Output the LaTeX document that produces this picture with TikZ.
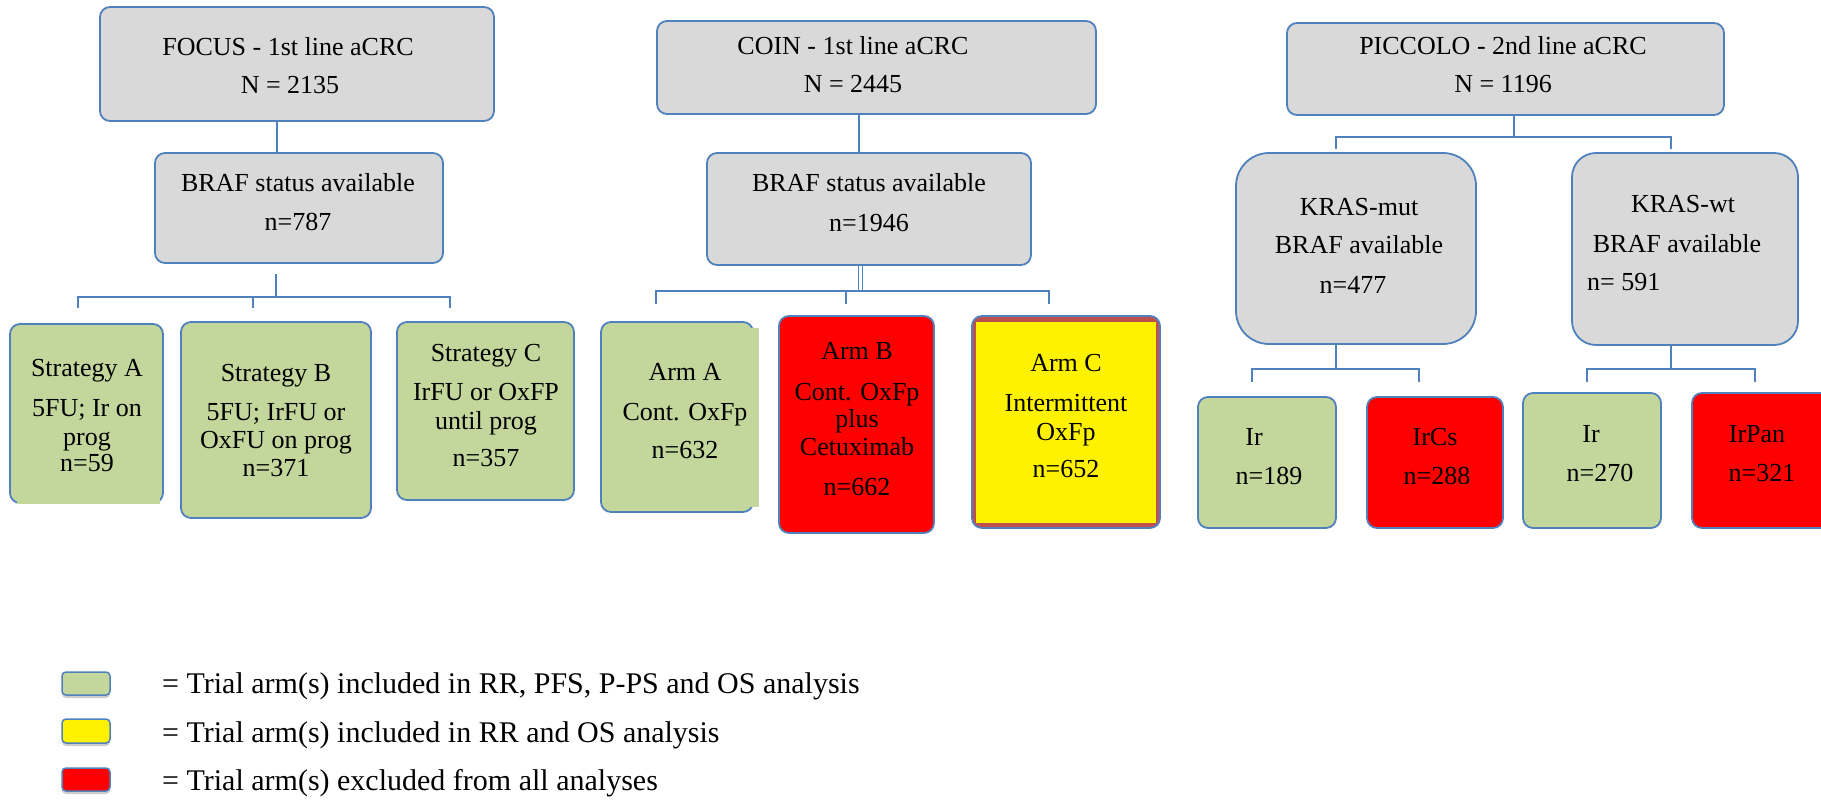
\documentclass[tikz,border=0pt]{standalone}
\usepackage{fontspec}
\setmainfont{Liberation Serif}
\usetikzlibrary{shadows}
\definecolor{lblue}{HTML}{4F81BD}
\definecolor{gfill}{HTML}{D9D9D9}
\definecolor{grn}{HTML}{C3D69B}
\definecolor{rbord}{HTML}{C0504D}
\tikzset{
 box/.style={draw=lblue, line width=1.8pt, rounded corners=10pt, inner sep=0pt},
 graybox/.style={box, fill=gfill},
 greenbox/.style={box, fill=grn},
 redbox/.style={box, fill=red},
 yelbox/.style={box, fill=rbord},
 conn/.style={draw=lblue, line width=1.8pt},
 txt/.style={inner sep=0pt, text height=17pt, text depth=0pt, font=\fontsize{26}{30}\selectfont},
 legtxt/.style={inner sep=0pt, text height=20pt, text depth=0pt, font=\fontsize{30}{34}\selectfont},
 legbox/.style={box, rounded corners=4pt, line width=1.5pt, drop shadow={shadow xshift=0pt, shadow yshift=-3pt, opacity=0.4}},
}
\newcommand\bx[6]{\node[#2, minimum width={#5-#3}, minimum height={#6-#4}] (#1) at ({(#3+#5)/2},{(#4+#6)/2}) {};}
\newcommand\tx[4]{\node[txt] (#1) at (#2,#3) {#4};}
\begin{document}
\begin{tikzpicture}[x=1pt,y=-1pt]
\clip (0,0) rectangle (1821,800);
\fill[white] (0,0) rectangle (1821,800);
% ---------- FOCUS ----------
\bx{focus}{graybox}{100}{7}{494}{121}
\tx{focusA}{288}{47}{FOCUS - 1st line aCRC}
\tx{focusB}{290}{85}{N = 2135}
\bx{brafA}{graybox}{155}{153}{443}{263}
\tx{brafAa}{298}{183}{BRAF status available}
\tx{brafAb}{298}{222}{n=787}
\bx{stA}{greenbox}{10}{324}{163}{503}
\fill[grn] (17,492) rectangle (160,504);
\tx{stA1}{87}{368}{Strategy A}
\tx{stA2}{87}{408}{5FU; Ir on}
\tx{stA3}{87}{437}{prog}
\tx{stA4}{87}{463}{n=59}
\bx{stB}{greenbox}{181}{322}{371}{518}
\tx{stB1}{276}{373}{Strategy B}
\tx{stB2}{276}{412}{5FU; IrFU or}
\tx{stB3}{276}{440}{OxFU on prog}
\tx{stB4}{276}{468}{n=371}
\bx{stC}{greenbox}{397}{322}{574}{500}
\tx{stC1}{486}{353}{Strategy C}
\tx{stC2}{486}{392}{IrFU or OxFP}
\tx{stC3}{486}{421}{until prog}
\tx{stC4}{486}{458}{n=357}
\draw[conn] ([xshift=-20pt]focus.south) -- ([xshift=-22pt]brafA.north);
\coordinate (fj) at (276,297);
\coordinate (fa) at (78,308);
\coordinate (fb) at (253,308);
\coordinate (fc) at (450,308);
\draw[conn] (brafA.south -| fj) ++(0,10) -- (fj);
\draw[conn] (fa) |- (fj) -| (fc);
\draw[conn] (fb) -- (fb |- fj);
% ---------- COIN ----------
\bx{coin}{graybox}{657}{21}{1096}{114}
\tx{coinA}{853}{46}{COIN - 1st line aCRC}
\tx{coinB}{853}{84}{N = 2445}
\bx{brafB}{graybox}{707}{153}{1031}{265}
\tx{brafBa}{869}{183}{BRAF status available}
\tx{brafBb}{869}{223}{n=1946}
\bx{armA}{greenbox}{601}{322}{753}{512}
\fill[grn] (745,328) rectangle (759,507);
\tx{armA1}{685}{372}{Arm A}
\tx{armA2}{685}{412}{Cont. OxFp}
\tx{armA3}{685}{450}{n=632}
\bx{armB}{redbox}{779}{316}{934}{533}
\tx{armB1}{857}{351}{Arm B}
\tx{armB2}{857}{392}{Cont. OxFp}
\tx{armB3}{857}{419}{plus}
\tx{armB4}{857}{447}{Cetuximab}
\tx{armB5}{857}{487}{n=662}
\bx{armC}{yelbox}{972}{316}{1160}{528}
\fill[yellow] (976,322) rectangle (1156,523);
\tx{armC1}{1066}{363}{Arm C}
\tx{armC2}{1066}{403}{Intermittent}
\tx{armC3}{1066}{432}{OxFp}
\tx{armC4}{1066}{469}{n=652}
\coordinate (cj) at (860.5,291);
\coordinate (ca) at (656,304);
\coordinate (cb) at (846,304);
\coordinate (cc) at (1049,304);
\draw[conn] (coin.south -| 859,0) -- (brafB.north -| 859,0);
\draw[conn, line width=1.2pt] ([xshift=-1.8pt]brafB.south -| cj) -- ([xshift=-1.8pt]cj);
\draw[conn, line width=1.2pt] ([xshift=1.8pt]brafB.south -| cj) -- ([xshift=1.8pt]cj);
\draw[conn] (ca) |- (cj) -| (cc);
\draw[conn] (cb) -- (cb |- cj);
% ---------- PICCOLO ----------
\bx{picc}{graybox}{1287}{23}{1724}{115}
\tx{piccA}{1503}{46}{PICCOLO - 2nd line aCRC}
\tx{piccB}{1503}{84}{N = 1196}
\bx{kmut}{graybox, rounded corners=33pt}{1236}{153}{1476}{344}
\tx{kmut1}{1359}{207}{KRAS-mut}
\tx{kmut2}{1359}{245}{BRAF available}
\tx{kmut3}{1353}{285}{n=477}
\bx{kwt}{graybox, rounded corners=24pt}{1572}{153}{1798}{345}
\tx{kwt1}{1683}{204}{KRAS-wt}
\tx{kwt2}{1677}{244}{BRAF available}
\node[txt, anchor=west] (kwt3) at (1587,282) {n= 591};
\bx{irA}{greenbox}{1198}{397}{1336}{528}
\tx{irA1}{1254}{437}{Ir}
\tx{irA2}{1269}{476}{n=189}
\bx{ircs}{redbox}{1367}{397}{1503}{528}
\tx{ircs1}{1435}{437}{IrCs}
\tx{ircs2}{1437}{476}{n=288}
\bx{irB}{greenbox}{1523}{393}{1661}{528}
\tx{irB1}{1591}{434}{Ir}
\tx{irB2}{1600}{473}{n=270}
\bx{irpan}{redbox}{1692}{393}{1835}{528}
\tx{irpan1}{1757}{434}{IrPan}
\tx{irpan2}{1762}{473}{n=321}
\coordinate (pj) at (1514,137);
\coordinate (pa) at (1336,149);
\coordinate (pb) at (1671,149);
\draw[conn] (picc.south -| pj) -- (pj);
\draw[conn] (pa) |- (pj) -| (pb);
\coordinate (mj) at (1336,369);
\coordinate (ma) at (1252,382);
\coordinate (mb) at (1419,382);
\draw[conn] (kmut.south -| mj) -- (mj);
\draw[conn] (ma) |- (mj) -| (mb);
\coordinate (wj) at (1671,369);
\coordinate (wa) at (1587,382);
\coordinate (wb) at (1755,382);
\draw[conn] (kwt.south -| wj) -- (wj);
\draw[conn] (wa) |- (wj) -| (wb);
% ---------- Legend ----------
\bx{lg1}{legbox, fill=grn}{62}{672}{110}{695}
\bx{lg2}{legbox, fill=yellow}{62}{719}{110}{743}
\bx{lg3}{legbox, fill=red}{62}{768}{110}{791}
\node[legtxt, anchor=west] (lt1) at (162,683) {= Trial arm(s) included in RR, PFS, P-PS and OS analysis};
\node[legtxt, anchor=west] (lt2) at (162,732) {= Trial arm(s) included in RR and OS analysis};
\node[legtxt, anchor=west] (lt3) at (162,780) {= Trial arm(s) excluded from all analyses};
\end{tikzpicture}
\end{document}
